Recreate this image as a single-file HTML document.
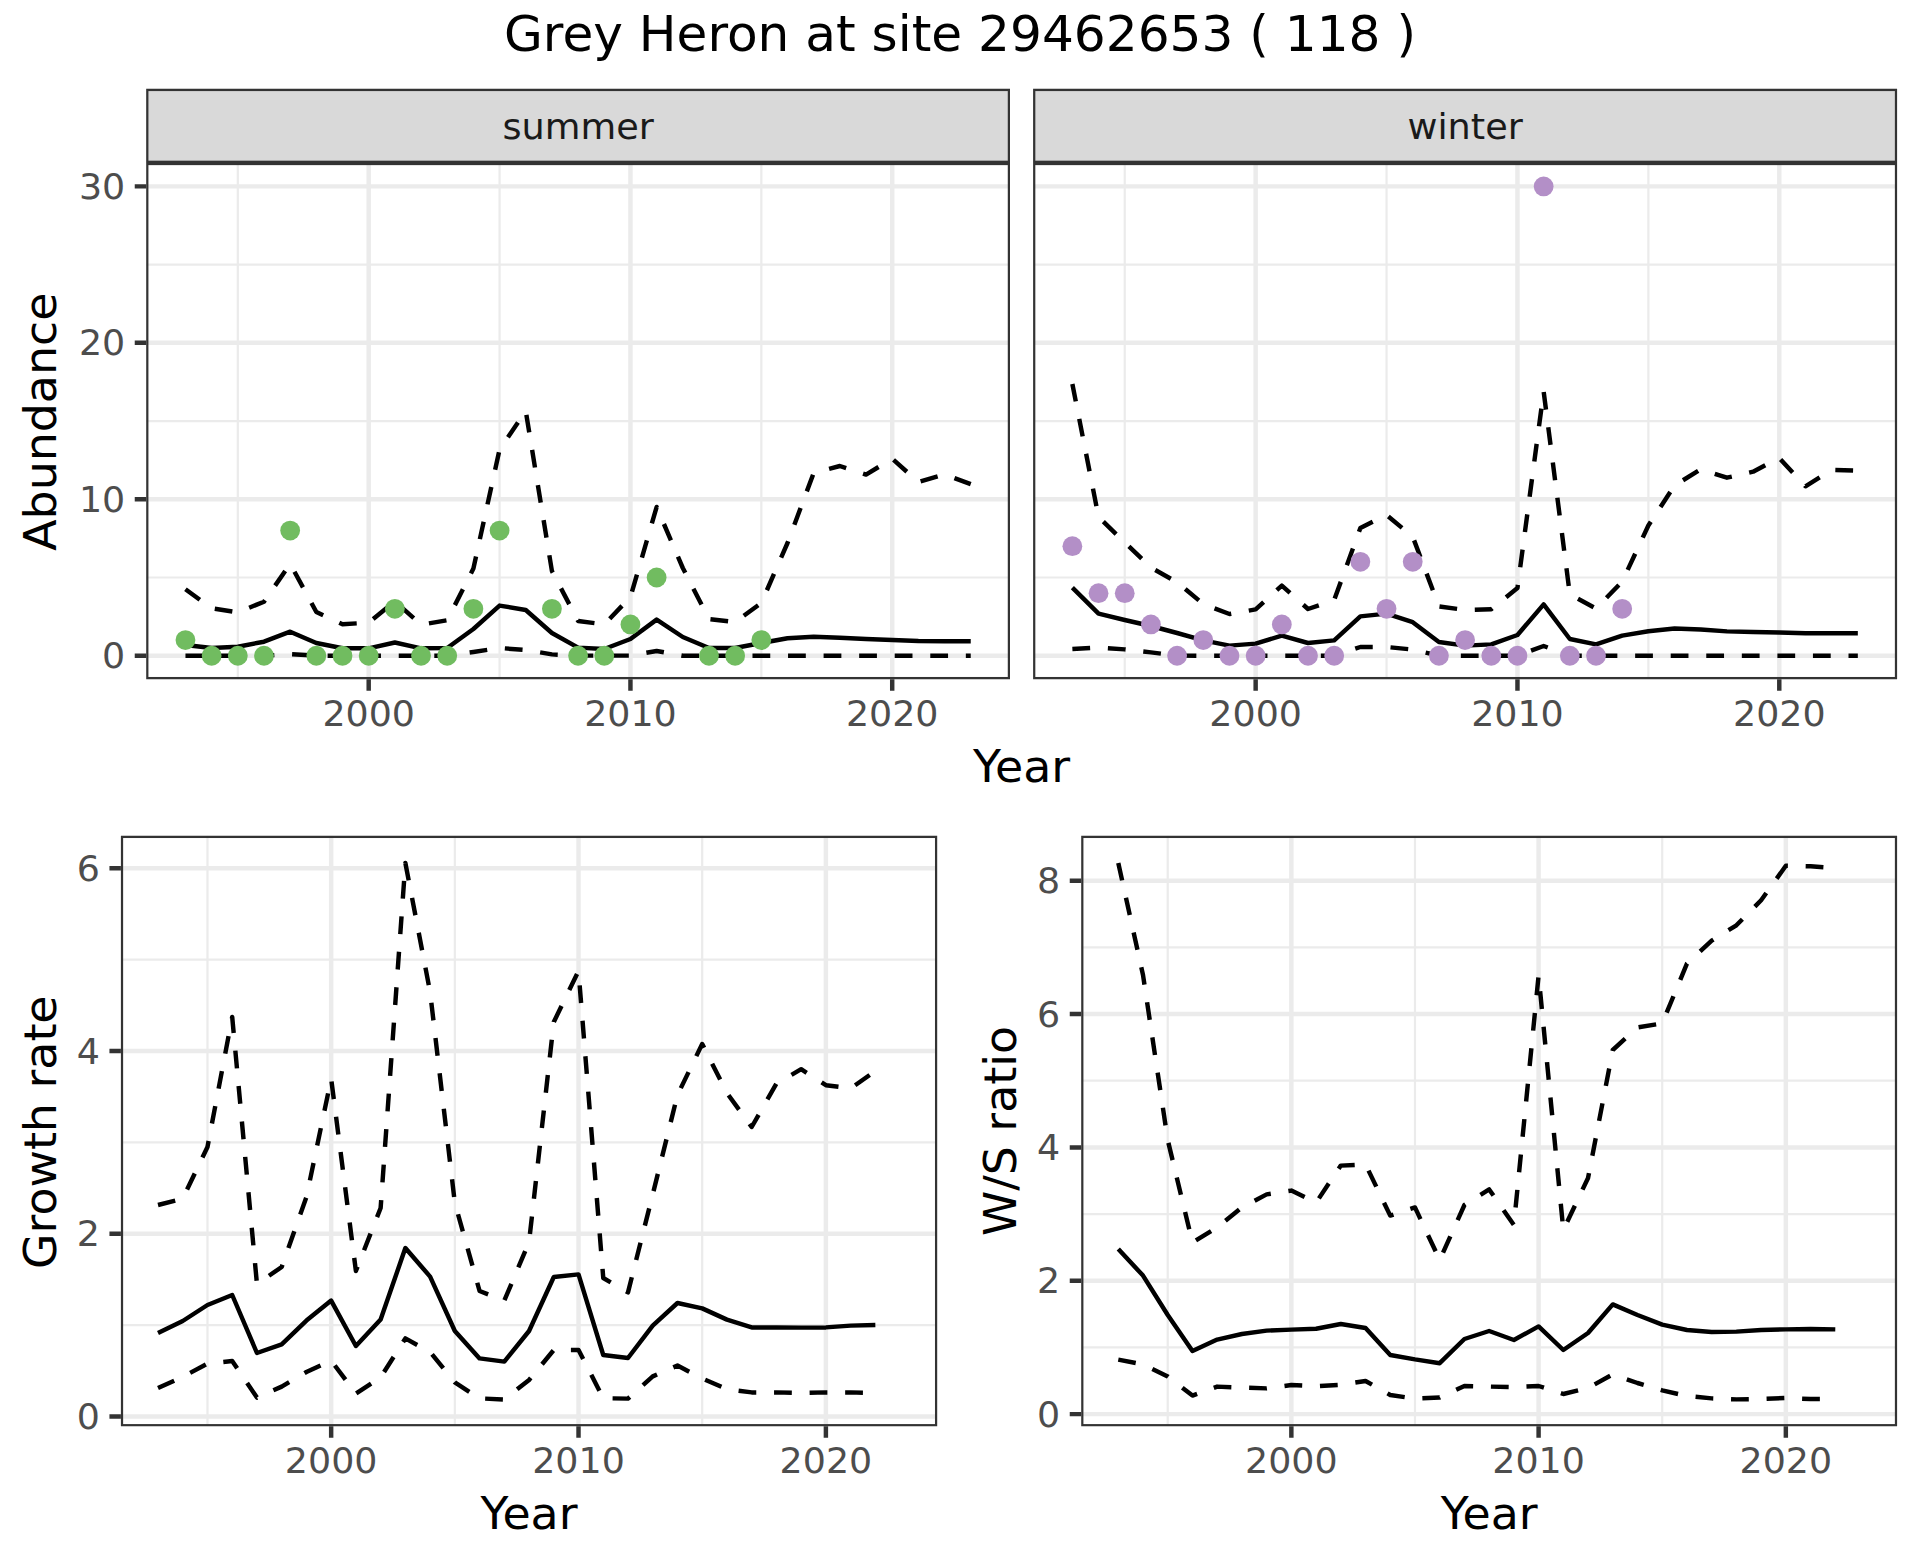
<!DOCTYPE html>
<html lang="en"><head><meta charset="utf-8"><title>Grey Heron at site 29462653</title>
<style>
html,body{margin:0;padding:0;background:#fff}
body{width:1920px;height:1560px;overflow:hidden}
svg{display:block}
text{font-family:"DejaVu Sans","Liberation Sans",sans-serif}
.ax{font-size:36.4px;fill:#4D4D4D}
.st{font-size:36.67px;fill:#1A1A1A}
.at{font-size:45.83px;fill:#000}
.ti{font-size:50.15px;fill:#000}
</style></head>
<body>
<svg width="1920" height="1560" viewBox="0 0 1920 1560">
<rect width="1920" height="1560" fill="#fff"/>
<text x="960" y="51" text-anchor="middle" class="ti">Grey Heron at site 29462653 ( 118 )</text>
<clipPath id="ssummer"><rect x="146.2" y="88.85" width="863.8" height="74.05"/></clipPath>
<rect x="146.2" y="88.85" width="863.8" height="74.05" fill="#D9D9D9" stroke="#333333" stroke-width="4.45" clip-path="url(#ssummer)"/>
<text transform="translate(578.1 139.2) scale(1 0.965)" text-anchor="middle" class="st">summer</text>
<clipPath id="swinter"><rect x="1033.1" y="88.85" width="864" height="74.05"/></clipPath>
<rect x="1033.1" y="88.85" width="864" height="74.05" fill="#D9D9D9" stroke="#333333" stroke-width="4.45" clip-path="url(#swinter)"/>
<text transform="translate(1465.1 139.2) scale(1 0.965)" text-anchor="middle" class="st">winter</text>
<clipPath id="ctl"><rect x="146.2" y="162.9" width="863.8" height="516.3"/></clipPath>
<g clip-path="url(#ctl)">
<rect x="146.2" y="162.9" width="863.8" height="516.3" fill="#fff"/>
<path d="M146.2 577.5H1010M146.2 421.05H1010M146.2 264.6H1010M237.82 162.9V679.2M499.57 162.9V679.2M761.33 162.9V679.2" stroke="#EBEBEB" stroke-width="2.22" fill="none"/>
<path d="M146.2 655.73H1010M146.2 499.28H1010M146.2 342.83H1010M146.2 186.38H1010M368.69 162.9V679.2M630.45 162.9V679.2M892.21 162.9V679.2" stroke="#EBEBEB" stroke-width="4.45" fill="none"/>
<polyline points="185.46,589.2 211.64,608.3 237.82,612.3 263.99,601.7 290.17,563.8 316.34,612 342.52,624.2 368.69,622.7 394.87,601.3 421.05,624.7 447.22,620.3 473.4,568.5 499.57,449.5 525.75,411 551.92,571 578.1,621 604.28,624.4 630.45,597 656.63,507 682.8,568 708.98,619 735.15,622 761.33,603 787.51,543 813.68,473 839.86,466 866.03,474.6 892.21,458.7 918.38,482 944.56,474.3 970.74,484.2" fill="none" stroke="#000" stroke-width="4.45" stroke-linejoin="round" stroke-dasharray="17.78 17.78"/>
<polyline points="185.46,655.73 211.64,655.73 237.82,655.73 263.99,655.73 290.17,654.2 316.34,655.6 342.52,655.73 368.69,655.73 394.87,655.73 421.05,655.73 447.22,655.73 473.4,652 499.57,648 525.75,650 551.92,654.4 578.1,655.6 604.28,655.6 630.45,655.6 656.63,651 682.8,655.73 708.98,655.73 735.15,655.73 761.33,655.73 787.51,655.73 813.68,655.73 839.86,655.73 866.03,655.73 892.21,655.73 918.38,655.73 944.56,655.73 970.74,655.73" fill="none" stroke="#000" stroke-width="4.45" stroke-linejoin="round" stroke-dasharray="17.78 17.78"/>
<polyline points="185.46,645 211.64,648 237.82,646.7 263.99,641.7 290.17,631.7 316.34,643 342.52,648.3 368.69,648.3 394.87,642.5 421.05,648.3 447.22,648 473.4,629 499.57,605.6 525.75,610 551.92,633 578.1,647.6 604.28,649 630.45,639 656.63,619.6 682.8,637 708.98,648 735.15,648 761.33,643 787.51,638.3 813.68,636.7 839.86,637.8 866.03,639 892.21,640 918.38,641 944.56,641.3 970.74,641.3" fill="none" stroke="#000" stroke-width="4.45" stroke-linejoin="round"/>
<circle cx="185.46" cy="640.09" r="9.9" fill="#71BC60"/>
<circle cx="211.64" cy="655.73" r="9.9" fill="#71BC60"/>
<circle cx="237.82" cy="655.73" r="9.9" fill="#71BC60"/>
<circle cx="263.99" cy="655.73" r="9.9" fill="#71BC60"/>
<circle cx="290.17" cy="530.57" r="9.9" fill="#71BC60"/>
<circle cx="316.34" cy="655.73" r="9.9" fill="#71BC60"/>
<circle cx="342.52" cy="655.73" r="9.9" fill="#71BC60"/>
<circle cx="368.69" cy="655.73" r="9.9" fill="#71BC60"/>
<circle cx="394.87" cy="608.8" r="9.9" fill="#71BC60"/>
<circle cx="421.05" cy="655.73" r="9.9" fill="#71BC60"/>
<circle cx="447.22" cy="655.73" r="9.9" fill="#71BC60"/>
<circle cx="473.4" cy="608.8" r="9.9" fill="#71BC60"/>
<circle cx="499.57" cy="530.57" r="9.9" fill="#71BC60"/>
<circle cx="551.92" cy="608.8" r="9.9" fill="#71BC60"/>
<circle cx="578.1" cy="655.73" r="9.9" fill="#71BC60"/>
<circle cx="604.28" cy="655.73" r="9.9" fill="#71BC60"/>
<circle cx="630.45" cy="624.44" r="9.9" fill="#71BC60"/>
<circle cx="656.63" cy="577.5" r="9.9" fill="#71BC60"/>
<circle cx="708.98" cy="655.73" r="9.9" fill="#71BC60"/>
<circle cx="735.15" cy="655.73" r="9.9" fill="#71BC60"/>
<circle cx="761.33" cy="640.09" r="9.9" fill="#71BC60"/>
<rect x="146.2" y="162.9" width="863.8" height="516.3" fill="none" stroke="#333333" stroke-width="4.45"/>
</g>
<path d="M134.74 655.73H146.2M134.74 499.28H146.2M134.74 342.83H146.2M134.74 186.38H146.2M368.69 679.2V690.66M630.45 679.2V690.66M892.21 679.2V690.66" stroke="#333333" stroke-width="4.45" fill="none"/>
<text transform="translate(368.69 726.1) scale(1 0.972)" text-anchor="middle" class="ax">2000</text>
<text transform="translate(630.45 726.1) scale(1 0.972)" text-anchor="middle" class="ax">2010</text>
<text transform="translate(892.21 726.1) scale(1 0.972)" text-anchor="middle" class="ax">2020</text>
<text transform="translate(125.2 668.28) scale(1 0.972)" text-anchor="end" class="ax">0</text>
<text transform="translate(125.2 511.83) scale(1 0.972)" text-anchor="end" class="ax">10</text>
<text transform="translate(125.2 355.38) scale(1 0.972)" text-anchor="end" class="ax">20</text>
<text transform="translate(125.2 198.93) scale(1 0.972)" text-anchor="end" class="ax">30</text>
<clipPath id="ctr"><rect x="1033.1" y="162.9" width="864" height="516.3"/></clipPath>
<g clip-path="url(#ctr)">
<rect x="1033.1" y="162.9" width="864" height="516.3" fill="#fff"/>
<path d="M1033.1 577.5H1897.1M1033.1 421.05H1897.1M1033.1 264.6H1897.1M1124.74 162.9V679.2M1386.55 162.9V679.2M1648.37 162.9V679.2" stroke="#EBEBEB" stroke-width="2.22" fill="none"/>
<path d="M1033.1 655.73H1897.1M1033.1 499.28H1897.1M1033.1 342.83H1897.1M1033.1 186.38H1897.1M1255.65 162.9V679.2M1517.46 162.9V679.2M1779.28 162.9V679.2" stroke="#EBEBEB" stroke-width="4.45" fill="none"/>
<polyline points="1072.37,384 1098.55,517 1124.74,542.4 1150.92,567.6 1177.1,582.2 1203.28,604 1229.46,614 1255.65,609.4 1281.83,585.6 1308.01,609 1334.19,600 1360.37,528 1386.55,515 1412.74,536.7 1438.92,606.4 1465.1,610 1491.28,609.2 1517.46,588 1543.65,391.5 1569.83,594.4 1596.01,608.6 1622.19,581.6 1648.37,525.5 1674.55,485.5 1700.74,469.3 1726.92,477.7 1753.1,471.7 1779.28,458 1805.46,486.3 1831.65,470 1857.83,470.7" fill="none" stroke="#000" stroke-width="4.45" stroke-linejoin="round" stroke-dasharray="17.78 17.78"/>
<polyline points="1072.37,649 1098.55,647.6 1124.74,649.4 1150.92,652.4 1177.1,655.6 1203.28,655.73 1229.46,655.73 1255.65,655.73 1281.83,655.73 1308.01,655.73 1334.19,655.73 1360.37,647 1386.55,647 1412.74,649.6 1438.92,655.6 1465.1,655.73 1491.28,655.73 1517.46,655.73 1543.65,646 1569.83,655.73 1596.01,655.73 1622.19,655.73 1648.37,655.73 1674.55,655.73 1700.74,655.73 1726.92,655.73 1753.1,655.73 1779.28,655.73 1805.46,655.73 1831.65,655.73 1857.83,655.73" fill="none" stroke="#000" stroke-width="4.45" stroke-linejoin="round" stroke-dasharray="17.78 17.78"/>
<polyline points="1072.37,587.6 1098.55,613.6 1124.74,620 1150.92,626 1177.1,633 1203.28,640.4 1229.46,645.6 1255.65,643.6 1281.83,635.6 1308.01,643 1334.19,640.4 1360.37,616.4 1386.55,613.6 1412.74,622.2 1438.92,642 1465.1,645.6 1491.28,644.4 1517.46,635 1543.65,604.4 1569.83,639 1596.01,644.4 1622.19,635.6 1648.37,631.2 1674.55,628.5 1700.74,629.5 1726.92,631.4 1753.1,632 1779.28,632.5 1805.46,633.2 1831.65,633.3 1857.83,633.3" fill="none" stroke="#000" stroke-width="4.45" stroke-linejoin="round"/>
<circle cx="1072.37" cy="546.22" r="9.9" fill="#B38FC7"/>
<circle cx="1098.55" cy="593.15" r="9.9" fill="#B38FC7"/>
<circle cx="1124.74" cy="593.15" r="9.9" fill="#B38FC7"/>
<circle cx="1150.92" cy="624.44" r="9.9" fill="#B38FC7"/>
<circle cx="1177.1" cy="655.73" r="9.9" fill="#B38FC7"/>
<circle cx="1203.28" cy="640.09" r="9.9" fill="#B38FC7"/>
<circle cx="1229.46" cy="655.73" r="9.9" fill="#B38FC7"/>
<circle cx="1255.65" cy="655.73" r="9.9" fill="#B38FC7"/>
<circle cx="1281.83" cy="624.44" r="9.9" fill="#B38FC7"/>
<circle cx="1308.01" cy="655.73" r="9.9" fill="#B38FC7"/>
<circle cx="1334.19" cy="655.73" r="9.9" fill="#B38FC7"/>
<circle cx="1360.37" cy="561.86" r="9.9" fill="#B38FC7"/>
<circle cx="1386.55" cy="608.8" r="9.9" fill="#B38FC7"/>
<circle cx="1412.74" cy="561.86" r="9.9" fill="#B38FC7"/>
<circle cx="1438.92" cy="655.73" r="9.9" fill="#B38FC7"/>
<circle cx="1465.1" cy="640.09" r="9.9" fill="#B38FC7"/>
<circle cx="1491.28" cy="655.73" r="9.9" fill="#B38FC7"/>
<circle cx="1517.46" cy="655.73" r="9.9" fill="#B38FC7"/>
<circle cx="1543.65" cy="186.38" r="9.9" fill="#B38FC7"/>
<circle cx="1569.83" cy="655.73" r="9.9" fill="#B38FC7"/>
<circle cx="1596.01" cy="655.73" r="9.9" fill="#B38FC7"/>
<circle cx="1622.19" cy="608.8" r="9.9" fill="#B38FC7"/>
<rect x="1033.1" y="162.9" width="864" height="516.3" fill="none" stroke="#333333" stroke-width="4.45"/>
</g>
<path d="M1255.65 679.2V690.66M1517.46 679.2V690.66M1779.28 679.2V690.66" stroke="#333333" stroke-width="4.45" fill="none"/>
<text transform="translate(1255.65 726.1) scale(1 0.972)" text-anchor="middle" class="ax">2000</text>
<text transform="translate(1517.46 726.1) scale(1 0.972)" text-anchor="middle" class="ax">2010</text>
<text transform="translate(1779.28 726.1) scale(1 0.972)" text-anchor="middle" class="ax">2020</text>
<clipPath id="cbl"><rect x="120.9" y="835.8" width="816.3" height="590.5"/></clipPath>
<g clip-path="url(#cbl)">
<rect x="120.9" y="835.8" width="816.3" height="590.5" fill="#fff"/>
<path d="M120.9 1325.05H937.2M120.9 1142.35H937.2M120.9 959.65H937.2M207.48 835.8V1426.3M454.84 835.8V1426.3M702.2 835.8V1426.3" stroke="#EBEBEB" stroke-width="2.22" fill="none"/>
<path d="M120.9 1416.4H937.2M120.9 1233.7H937.2M120.9 1051H937.2M120.9 868.3H937.2M331.16 835.8V1426.3M578.52 835.8V1426.3M825.89 835.8V1426.3" stroke="#EBEBEB" stroke-width="4.45" fill="none"/>
<polyline points="158,1205 182.74,1198.6 207.48,1147 232.21,1017 256.95,1284 281.69,1267 306.42,1197 331.16,1078.7 355.9,1271 380.63,1208 405.37,863 430.1,992 454.84,1203 479.58,1291 504.31,1300.6 529.05,1242 553.79,1022 578.52,971 603.26,1278 628,1292.4 652.73,1194.4 677.47,1095 702.2,1044 726.94,1093 751.68,1127 776.41,1083.6 801.15,1069.2 825.89,1085.2 850.62,1088.4 875.36,1071" fill="none" stroke="#000" stroke-width="4.45" stroke-linejoin="round" stroke-dasharray="17.78 17.78"/>
<polyline points="158,1388 182.74,1376.8 207.48,1363.6 232.21,1361 256.95,1397.6 281.69,1386.6 306.42,1372 331.16,1360.6 355.9,1393.6 380.63,1377.4 405.37,1338.4 430.1,1352 454.84,1382.4 479.58,1398.4 504.31,1399.5 529.05,1380 553.79,1350 578.52,1350 603.26,1398.2 628,1398.6 652.73,1376.4 677.47,1365.6 702.2,1378.4 726.94,1389.2 751.68,1392.4 776.41,1392.4 801.15,1393 825.89,1392.4 850.62,1392.4 875.36,1393" fill="none" stroke="#000" stroke-width="4.45" stroke-linejoin="round" stroke-dasharray="17.78 17.78"/>
<polyline points="158,1333 182.74,1321 207.48,1305 232.21,1295 256.95,1353 281.69,1344.4 306.42,1320.6 331.16,1300.6 355.9,1346 380.63,1319.6 405.37,1248 430.1,1276.6 454.84,1331 479.58,1358.4 504.31,1361.6 529.05,1331 553.79,1277 578.52,1274.4 603.26,1355 628,1358 652.73,1325.6 677.47,1303 702.2,1308.4 726.94,1319.6 751.68,1327.4 776.41,1327.4 801.15,1327.6 825.89,1327.4 850.62,1325.6 875.36,1325" fill="none" stroke="#000" stroke-width="4.45" stroke-linejoin="round"/>
<rect x="120.9" y="835.8" width="816.3" height="590.5" fill="none" stroke="#333333" stroke-width="4.45"/>
</g>
<path d="M109.44 1416.4H120.9M109.44 1233.7H120.9M109.44 1051H120.9M109.44 868.3H120.9M331.16 1426.3V1437.76M578.52 1426.3V1437.76M825.89 1426.3V1437.76" stroke="#333333" stroke-width="4.45" fill="none"/>
<text transform="translate(331.16 1473.2) scale(1 0.972)" text-anchor="middle" class="ax">2000</text>
<text transform="translate(578.52 1473.2) scale(1 0.972)" text-anchor="middle" class="ax">2010</text>
<text transform="translate(825.89 1473.2) scale(1 0.972)" text-anchor="middle" class="ax">2020</text>
<text transform="translate(99.9 1428.95) scale(1 0.972)" text-anchor="end" class="ax">0</text>
<text transform="translate(99.9 1246.25) scale(1 0.972)" text-anchor="end" class="ax">2</text>
<text transform="translate(99.9 1063.55) scale(1 0.972)" text-anchor="end" class="ax">4</text>
<text transform="translate(99.9 880.85) scale(1 0.972)" text-anchor="end" class="ax">6</text>
<clipPath id="cbr"><rect x="1081.2" y="835.8" width="815.9" height="590.5"/></clipPath>
<g clip-path="url(#cbr)">
<rect x="1081.2" y="835.8" width="815.9" height="590.5" fill="#fff"/>
<path d="M1081.2 1347.4H1897.1M1081.2 1214.1H1897.1M1081.2 1080.7H1897.1M1081.2 947.4H1897.1M1167.73 835.8V1426.3M1414.98 835.8V1426.3M1662.22 835.8V1426.3" stroke="#EBEBEB" stroke-width="2.22" fill="none"/>
<path d="M1081.2 1414.1H1897.1M1081.2 1280.75H1897.1M1081.2 1147.4H1897.1M1081.2 1014.05H1897.1M1081.2 880.7H1897.1M1291.36 835.8V1426.3M1538.6 835.8V1426.3M1785.84 835.8V1426.3" stroke="#EBEBEB" stroke-width="4.45" fill="none"/>
<polyline points="1118.29,863 1143.01,975 1167.73,1140 1192.46,1242.6 1217.18,1227.4 1241.91,1207.4 1266.63,1194.4 1291.36,1190.6 1316.08,1202.6 1340.8,1165.6 1365.53,1164.4 1390.25,1215.6 1414.98,1207.4 1439.7,1260 1464.43,1205 1489.15,1189.4 1513.87,1225 1538.6,975.6 1563.32,1230 1588.05,1178 1612.77,1050 1637.5,1027.5 1662.22,1023.4 1686.94,963.6 1711.67,940.6 1736.39,925.3 1761.12,900.2 1785.84,865.8 1810.57,866.3 1835.29,868" fill="none" stroke="#000" stroke-width="4.45" stroke-linejoin="round" stroke-dasharray="17.78 17.78"/>
<polyline points="1118.29,1359.6 1143.01,1364.4 1167.73,1376.4 1192.46,1395.6 1217.18,1386.6 1241.91,1387.6 1266.63,1388.4 1291.36,1385 1316.08,1386.2 1340.8,1384.8 1365.53,1381 1390.25,1395 1414.98,1398.6 1439.7,1397.5 1464.43,1386 1489.15,1386.6 1513.87,1387.2 1538.6,1386 1563.32,1394 1588.05,1388 1612.77,1374.4 1637.5,1383 1662.22,1390.4 1686.94,1396 1711.67,1398.4 1736.39,1399.4 1761.12,1399 1785.84,1398 1810.57,1399 1835.29,1399" fill="none" stroke="#000" stroke-width="4.45" stroke-linejoin="round" stroke-dasharray="17.78 17.78"/>
<polyline points="1118.29,1249 1143.01,1275.6 1167.73,1315 1192.46,1351 1217.18,1339.6 1241.91,1334 1266.63,1330.6 1291.36,1329.6 1316.08,1328.8 1340.8,1324 1365.53,1328 1390.25,1355 1414.98,1359.4 1439.7,1363.2 1464.43,1339 1489.15,1331 1513.87,1340 1538.6,1326.4 1563.32,1350 1588.05,1333 1612.77,1304.4 1637.5,1315 1662.22,1324.6 1686.94,1330 1711.67,1332 1736.39,1331.6 1761.12,1330 1785.84,1329.4 1810.57,1329 1835.29,1329.4" fill="none" stroke="#000" stroke-width="4.45" stroke-linejoin="round"/>
<rect x="1081.2" y="835.8" width="815.9" height="590.5" fill="none" stroke="#333333" stroke-width="4.45"/>
</g>
<path d="M1069.74 1414.1H1081.2M1069.74 1280.75H1081.2M1069.74 1147.4H1081.2M1069.74 1014.05H1081.2M1069.74 880.7H1081.2M1291.36 1426.3V1437.76M1538.6 1426.3V1437.76M1785.84 1426.3V1437.76" stroke="#333333" stroke-width="4.45" fill="none"/>
<text transform="translate(1291.36 1473.2) scale(1 0.972)" text-anchor="middle" class="ax">2000</text>
<text transform="translate(1538.6 1473.2) scale(1 0.972)" text-anchor="middle" class="ax">2010</text>
<text transform="translate(1785.84 1473.2) scale(1 0.972)" text-anchor="middle" class="ax">2020</text>
<text transform="translate(1060.2 1426.65) scale(1 0.972)" text-anchor="end" class="ax">0</text>
<text transform="translate(1060.2 1293.3) scale(1 0.972)" text-anchor="end" class="ax">2</text>
<text transform="translate(1060.2 1159.95) scale(1 0.972)" text-anchor="end" class="ax">4</text>
<text transform="translate(1060.2 1026.6) scale(1 0.972)" text-anchor="end" class="ax">6</text>
<text transform="translate(1060.2 893.25) scale(1 0.972)" text-anchor="end" class="ax">8</text>
<text transform="translate(1021.6 782.4) scale(1 0.968)" text-anchor="middle" class="at">Year</text>
<text transform="translate(529 1529) scale(1 0.968)" text-anchor="middle" class="at">Year</text>
<text transform="translate(1489.2 1529) scale(1 0.968)" text-anchor="middle" class="at">Year</text>
<text transform="translate(56.4 421.7) rotate(-90) scale(1 0.968)" text-anchor="middle" class="at">Abundance</text>
<text transform="translate(56.4 1132.2) rotate(-90) scale(1 0.968)" text-anchor="middle" class="at">Growth rate</text>
<text transform="translate(1015.6 1131) rotate(-90) scale(1 0.968)" text-anchor="middle" class="at">W/S ratio</text>
</svg>
</body></html>
